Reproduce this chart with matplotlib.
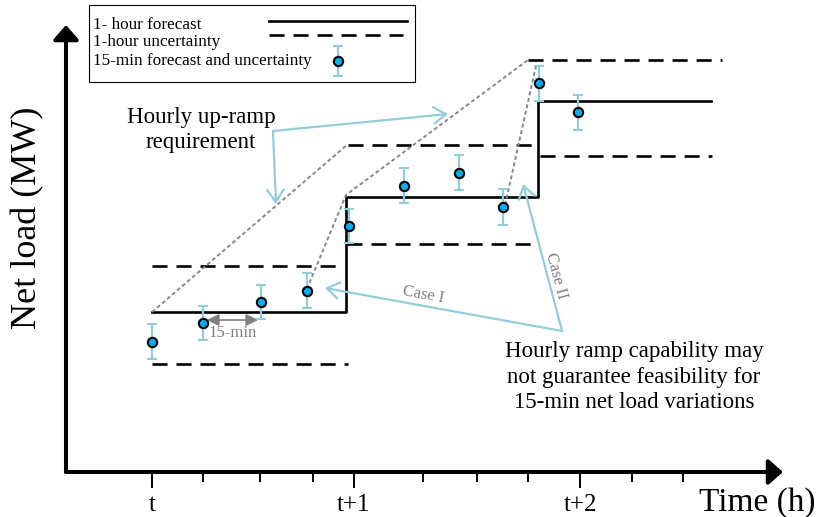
import matplotlib.pyplot as plt
from matplotlib.patches import Rectangle

plt.rcParams['font.family'] = ['Liberation Serif', 'DejaVu Serif']

# time in hours after t, net load in MW (schematic units)
hour_edges = [0.0, 0.960, 1.911, 2.767]
hourly_forecast = [80.0, 137.5, 185.5, 185.5]

upper_start = [0.0, 0.970, 1.861]
upper_end = [0.946, 1.896, 2.822]
upper_load = [103.0, 163.5, 206.0]
lower_start = [0.0, 0.965, 1.921]
lower_end = [0.970, 1.896, 2.772]
lower_load = [54.0, 114.0, 158.0]

# 15-min forecasts and their uncertainty
q_time = [0.0, 0.254, 0.541, 0.766, 0.974, 1.246, 1.518, 1.739, 1.916, 2.107]
q_load = [65.2, 74.4, 84.9, 90.7, 123.0, 143.2, 149.7, 132.5, 194.4, 179.9]
q_err = [8.6, 8.5, 8.6, 8.6, 8.7, 8.6, 8.6, 9.2, 8.8, 8.8]

# hourly ramp envelopes and the two 15-min ramp cases
ramp1_t = [0.0, 0.965]
ramp1_y = [80.0, 163.5]
ramp2_t = [0.767, 0.960, 1.861]
ramp2_y = [91.5, 138.5, 206.0]
ramp3_t = [1.748, 1.901]
ramp3_y = [133.5, 203.0]

major_ticks = [0.0, 1.0, 2.119]
major_labels = ['t', 't+1', 't+2']
minor_ticks = [0.252, 0.535, 0.797, 1.342, 1.609, 1.861, 2.376, 2.629]

LIGHT_BLUE = '#92CDDC'
DOT_BLUE = '#00B0F0'
DASH = (0, (5.7, 3.4))
DOT = (0, (2.0, 1.4))

fig = plt.figure(figsize=(8.19, 5.17), dpi=100)
ax = fig.add_axes([66 / 819, 45 / 517, 753 / 819, 472 / 517])
ax.set_xlim(-0.4257, 3.302)
ax.set_ylim(0, 236)
for s in ax.spines.values():
    s.set_visible(False)
ax.set_yticks([])
ax.set_xticks(major_ticks, major_labels)
ax.set_xticks(minor_ticks, minor=True)
ax.tick_params(axis='x', which='major', length=11.5, width=1.4, pad=4, labelsize=18)
ax.tick_params(axis='x', which='minor', length=7, width=1.4)

# axis arrows
head = '-|>,head_length=0.4,head_width=0.35'
ax.annotate('', xy=(3.124, 0), xytext=(-0.4257, 0), annotation_clip=False,
            arrowprops=dict(arrowstyle=head, lw=2.9, color='black', mutation_scale=22,
                            shrinkA=0, shrinkB=0))
ax.annotate('', xy=(-0.4257, 223.5), xytext=(-0.4257, 0), annotation_clip=False,
            arrowprops=dict(arrowstyle=head, lw=2.9, color='black', mutation_scale=22,
                            shrinkA=0, shrinkB=0))

# hourly forecast and its uncertainty band
ax.plot(hour_edges, hourly_forecast, drawstyle='steps-post', color='black', lw=1.9)
for x0, x1, y in zip(upper_start, upper_end, upper_load):
    ax.plot([x0, x1], [y, y], color='black', lw=1.9, ls=DASH)
for x0, x1, y in zip(lower_start, lower_end, lower_load):
    ax.plot([x0, x1], [y, y], color='black', lw=1.9, ls=DASH)

# ramp lines
for t, y in [(ramp1_t, ramp1_y), (ramp2_t, ramp2_y), (ramp3_t, ramp3_y)]:
    ax.plot(t, y, color='#888888', lw=1.4, ls=DOT)

ax.errorbar(q_time, q_load, yerr=q_err, fmt='o', ms=6.7, mfc=DOT_BLUE, mec='black',
            mew=1.5, ecolor=LIGHT_BLUE, elinewidth=1.6, capsize=3.8, capthick=1.6, zorder=5)

# annotations
open_head = '->,head_length=0.4,head_width=0.27'
arrow_kw = dict(arrowstyle=open_head, color=LIGHT_BLUE, lw=1.6, mutation_scale=22,
                shrinkA=0, shrinkB=0)
ax.text(0.243, 171, 'Hourly up-ramp\nrequirement', ha='center', va='center',
        size=16.5, linespacing=1.3)
ax.annotate('', xy=(1.465, 179), xytext=(0.599, 170.5), arrowprops=arrow_kw)
ax.annotate('', xy=(0.614, 134), xytext=(0.599, 170.5), arrowprops=arrow_kw)

ax.annotate('', xy=(0.856, 92), xytext=(2.030, 70.5), arrowprops=arrow_kw)
ax.annotate('', xy=(1.837, 144), xytext=(2.030, 70.5), arrowprops=arrow_kw)
ax.text(1.342, 88.5, 'Case I', rotation=-10.3, ha='center', va='center',
        color='#808080', size=12)
ax.text(2.0, 98, 'Case II', rotation=-75, ha='center', va='center',
        color='#808080', size=12)
ax.text(2.386, 47.5, 'Hourly ramp capability may\nnot guarantee feasibility for\n'
        '15-min net load variations', ha='center', va='center', size=16.5,
        linespacing=1.3)

ax.annotate('', xy=(0.525, 76), xytext=(0.272, 76),
            arrowprops=dict(arrowstyle='<|-|>,head_length=0.6,head_width=0.3',
                            color='#808080', lw=1.2, mutation_scale=12,
                            shrinkA=0, shrinkB=0))
ax.text(0.401, 69.5, '15-min', ha='center', va='center', color='#808080', size=12)

fig.text(757 / 819, 1 - 503 / 517, 'Time (h)', ha='center', va='center', size=24)
fig.text(28 / 819, 1 - 218 / 517, 'Net load (MW)', ha='center', va='center',
         rotation=90, size=26)

# legend drawn in pixel coordinates
lg = fig.add_axes([0, 0, 1, 1])
lg.set_xlim(0, 819)
lg.set_ylim(517, 0)
lg.set_axis_off()
lg.add_patch(Rectangle((89, 5), 326, 77, facecolor='white', edgecolor='black', lw=0.8))
legend_labels = ['1- hour forecast', '1-hour uncertainty', '15-min forecast and uncertainty']
for lab, y in zip(legend_labels, [25, 42.5, 61]):
    lg.text(93, y, lab, ha='left', va='center', size=12.3)
lg.plot([269, 407], [20.7, 20.7], color='black', lw=1.9)
lg.plot([269, 403], [35, 35], color='black', lw=1.9, ls=DASH)
lg.errorbar([337.7], [60.7], yerr=[15], fmt='o', ms=6.7, mfc=DOT_BLUE, mec='black',
            mew=1.5, ecolor=LIGHT_BLUE, elinewidth=1.6, capsize=3.8, capthick=1.6)

fig.savefig('out.png', dpi=100)
